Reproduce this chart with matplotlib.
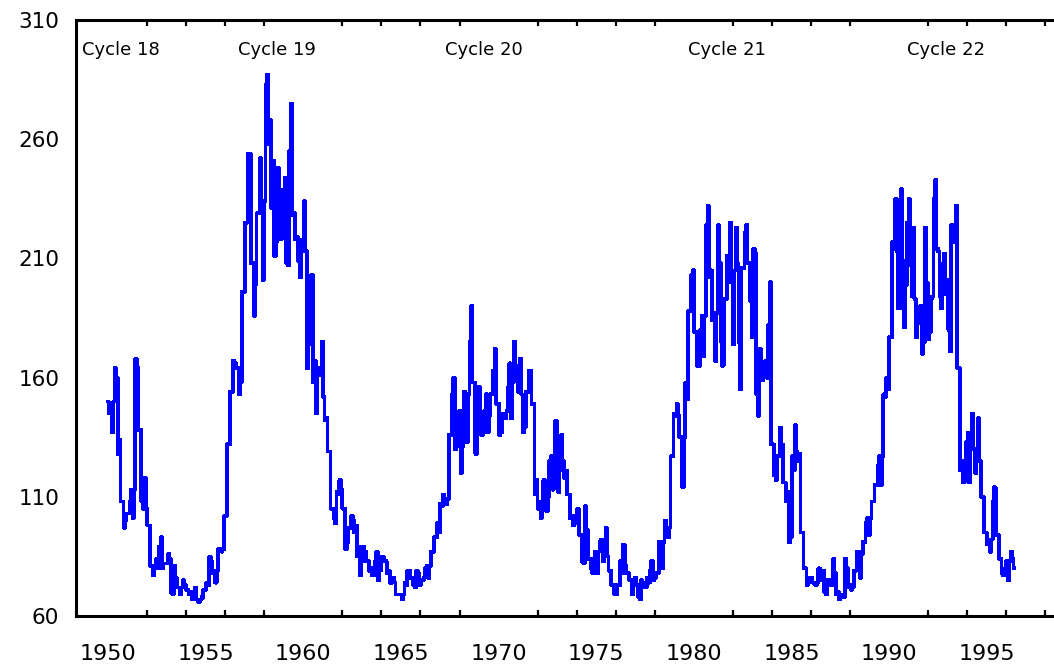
import numpy as np
import matplotlib
matplotlib.use("Agg")
import matplotlib.pyplot as plt

# monthly 10.7 cm flux (high, low pairs)
seg_1950 = [(150,145),(145,137),(164,150),(160,128),(134,108),(108,97),(103,100),(108,103),(113,101),
            (168,113),(164,138),(138,108),(118,105),(105,98),(98,81),(81,77),(84,80),(89,80),(93,80),
            (82,82),(86,82),(84,70),(81,69),(76,72),(72,69),(75,72),(73,71),(71,69),(70,67),(72,68),
            (67,66),(67,66),(71,68),(74,71),(85,73),(83,78),(79,74),(88,79),(88,87),(102,88),(132,102),
            (154,132),(167,154),(166,164),(164,153),(196,158),(225,196),(254,225),(254,208)]
seg_1958 = [(208,186),(229,199),(252,229),(234,201),(283,234),(287,258),(268,231),(251,211),(248,217),
            (222,218),(239,222),(244,208),(255,207),(275,228),(229,218),(219,209),(218,202),(234,213),
            (213,164),(192,174),(203,158),(167,145),(164,161),(175,161),(152,142),(143,129),(129,105),
            (105,101),(112,99),(117,111),(113,105),(105,88),(97,91),(102,97),(100,95),(98,85),(89,77),
            (89,83),(87,83),(83,79),(80,77),(83,77),(87,75),(85,79),(85,83),(83,78),(79,74),(76,74),
            (74,69),(69,69),(69,67),(74,69)]
seg_1966 = [(79,73),(79,76),(76,73),(79,72),(78,73),(75,75),(80,76),(81,76),(87,81),(93,87),(99,93),
            (107,95),(111,106),(109,107),(136,109),(153,136),(160,130),(143,131),(146,120),(154,131),
            (153,133),(175,153),(190,158),(158,128),(156,139),(139,136),(146,137),(153,137),(153,144),
            (163,153),(172,149),(149,136),(145,137),(145,143),(156,146),(166,143),(175,158),(165,160),
            (168,154),(153,137),(154,139),(163,154),(163,149),(149,111),(117,105),(108,101),(117,108),
            (109,104),(125,110),(127,113),(142,120),(132,112),(136,121),(125,118)]
seg_1974 = [(121,111),(111,101),(102,98),(102,99),(105,94),(94,83),(106,82),(96,84),(84,80),(84,78),
            (87,78),(91,87),(92,83),(97,85),(85,79),(79,73),(73,69),(73,69),(83,73),(90,78),(81,78),
            (78,75),(75,69),(76,73),(73,68),(75,67),(74,72),(76,72),(79,74),(83,75),(78,76),(91,78),
            (91,80),(100,91),(97,93),(127,97),(145,127),(149,144),(144,135),(135,114),(158,135),
            (188,151),(203,188),(205,179),(179,165),(180,165),(186,169),(224,186),(232,202),(205,184),
            (187,167),(224,187)]
seg_1982 = [(208,175),(193,165),(211,193),(225,200),(205,174),(223,205),(208,175),(206,155),(221,206),
            (224,208),(208,192),(214,177),(212,153),(172,144),(165,159),(167,163),(182,160),(200,132),
            (132,119),(127,117),(139,127),(132,116),(116,108),(112,91),(127,93),(140,121),(129,125),
            (128,95),(95,80),(80,73),(76,74),(76,74),(74,73),(80,74),(78,75),(79,70),(75,69),(75,73),
            (84,73),(78,69),(70,67),(69,68),(84,68),(80,72),(73,71),(79,72),(87,79),(87,76),(91,86),
            (99,91),(101,94),(108,101)]
seg_1989 = [(115,108),(123,115),(127,115),(153,127),(160,152),(177,155),(217,177),(235,214),(213,189),
            (239,189),(209,181),(225,199),(235,207),(223,194),(193,177),(188,183),(190,170),(223,175),
            (200,176),(193,179),(235,194),(243,214),(213,194),(208,189),(212,195),(201,180),(224,171),
            (224,217),(232,164),(164,121),(125,116),(133,118),(137,116),(145,130),(130,120),(143,125),
            (125,110),(110,95),(95,90),(92,87),(108,92),(114,94),(94,84),(84,78),(80,77),(83,75),
            (87,83),(84,80)]

first_year, last_year = 1950.0, 1996.4
cycle_names = ["Cycle 18", "Cycle 19", "Cycle 20", "Cycle 21", "Cycle 22"]
cycle_label_x = [1948.67, 1956.66, 1967.26, 1979.70, 1990.91]
year_labels = list(range(1950, 1996, 5))
flux_ticks = [60, 110, 160, 210, 260, 310]

cols = seg_1950 + seg_1958 + seg_1966 + seg_1974 + seg_1982 + seg_1989
flux = []
prev = None
for a, b in cols:
    # keep the path continuous: start each column at the end nearest the last value
    if prev is not None and abs(b - prev) < abs(a - prev):
        a, b = b, a
    flux += [a, b]
    prev = b
years = np.linspace(first_year, last_year, len(flux))

fig = plt.figure(figsize=(10.54, 6.70), dpi=100)
ax = fig.add_axes([0.0721, 0.0806, 0.9279, 0.8894])

ax.plot(years, flux, color="#0000ff", lw=2.0, drawstyle="steps-mid", antialiased=False)

ax.set_xlim(1948.36, 1998.44)
ax.set_ylim(60, 310)

ax.set_xticks(year_labels)
ax.set_xticklabels([str(y) for y in year_labels])
ax.set_xticks(np.arange(1950, 1999, 2), minor=True)
ax.set_yticks(flux_ticks)
ax.set_yticklabels([str(v) for v in flux_ticks])

ax.tick_params(axis="x", which="major", length=0, pad=20, labelsize=16)
ax.tick_params(axis="x", which="minor", direction="in", length=4, width=1.6,
               top=True, bottom=True)
ax.tick_params(axis="y", which="major", length=0, pad=12, labelsize=15.5)

for side in ["left", "bottom", "top"]:
    ax.spines[side].set_linewidth(2.2)
ax.spines["right"].set_visible(False)

for name, x in zip(cycle_names, cycle_label_x):
    ax.text(x, 297.6, name, fontsize=13, ha="left", va="center")

fig.savefig("out.png", dpi=100)
